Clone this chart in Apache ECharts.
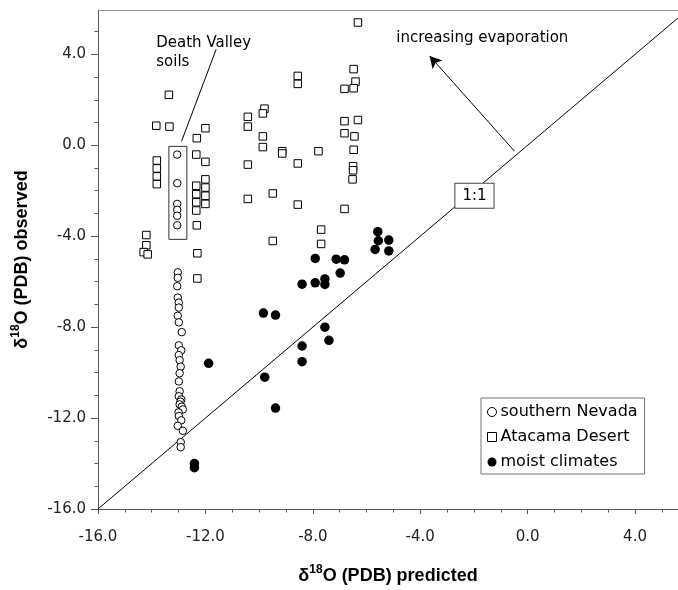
<!DOCTYPE html>
<html>
<head>
<meta charset="utf-8">
<script src="https://cdn.jsdelivr.net/npm/echarts@6/dist/echarts.min.js"></script>
<style>
  html, body { margin: 0; padding: 0; background: #fff; }
  #chart { width: 678px; height: 590px; }
</style>
</head>
<body>
<div id="chart"></div>
<script>
// Axis extents and tick positions (per mil, PDB)
const xMin = -16, xMax = 5.6;
const yMin = -16, yMax = 5.95;
const majorTicks = [-16, -12, -8, -4, 0, 4];
const minorTicksX = [-15, -14, -13, -11, -10, -9, -7, -6, -5, -3, -2, -1, 1, 2, 3, 5];
const minorTicksY = [-15, -14, -13, -11, -10, -9, -7, -6, -5, -3, -2, -1, 1, 2, 3, 5];

// [predicted, observed]
const southernNevada = [
  [-13.05, -0.41], [-13.05, -1.67], [-13.05, -2.58], [-13.05, -2.84], [-13.05, -3.10], [-13.05, -3.52],
  [-13.03, -5.59], [-13.03, -5.83], [-13.05, -6.20], [-13.03, -6.70], [-12.99, -6.92], [-12.99, -7.14],
  [-13.03, -7.50], [-12.99, -7.79], [-12.88, -8.22], [-12.99, -8.80], [-12.90, -9.02], [-12.99, -9.23],
  [-12.96, -9.45], [-12.92, -9.74], [-12.96, -10.03], [-12.99, -10.39], [-12.96, -10.82], [-12.99, -11.04],
  [-12.90, -11.18], [-12.93, -11.28], [-12.96, -11.40], [-12.88, -11.50], [-12.84, -11.62], [-13.00, -11.75],
  [-12.99, -11.91], [-12.90, -12.10], [-13.03, -12.34], [-12.84, -12.56], [-12.92, -13.06], [-12.92, -13.28]
];

const atacamaDesert = [
  [-13.36, 2.22], [-13.83, 0.86], [-13.34, 0.82], [-12.32, 0.31], [-12.00, 0.75], [-12.34, -0.41], [-12.00, -0.73],
  [-13.81, -0.67], [-13.81, -1.02], [-13.81, -1.37], [-13.81, -1.71],
  [-12.34, -1.78], [-12.34, -2.15], [-12.34, -2.51], [-12.34, -2.87], [-12.32, -3.52], [-12.30, -4.75], [-12.30, -5.86],
  [-12.00, -1.50], [-12.00, -1.86], [-12.00, -2.22], [-12.00, -2.58],
  [-14.20, -3.95], [-14.20, -4.40], [-14.30, -4.70], [-14.15, -4.80],
  [-8.56, 3.05], [-8.56, 2.70], [-9.80, 1.61], [-9.86, 1.40], [-10.42, 1.25], [-10.42, 0.82],
  [-9.86, 0.39], [-9.86, -0.08], [-9.14, -0.26], [-9.14, -0.36], [-7.79, -0.26], [-8.56, -0.80],
  [-10.42, -0.85], [-9.49, -2.12], [-10.42, -2.36], [-8.56, -2.61], [-7.69, -3.71], [-7.69, -4.34], [-9.49, -4.21],
  [-6.32, 5.40], [-6.48, 3.35], [-6.41, 2.80], [-6.48, 2.51], [-6.82, 2.48], [-6.32, 1.11], [-6.82, 1.06],
  [-6.82, 0.53], [-6.45, 0.39], [-6.48, -0.20], [-6.50, -0.92], [-6.50, -1.10], [-6.52, -1.50], [-6.82, -2.80]
];

const moistClimates = [
  [-11.88, -9.59], [-12.41, -14.00], [-12.41, -14.18],
  [-5.58, -3.80], [-5.56, -4.20], [-5.17, -4.17], [-5.68, -4.58], [-5.17, -4.65],
  [-7.91, -4.98], [-7.13, -5.01], [-6.82, -5.04], [-6.98, -5.62],
  [-8.40, -6.11], [-7.91, -6.05], [-7.55, -5.88], [-7.55, -6.12],
  [-9.84, -7.38], [-9.39, -7.47], [-7.55, -8.00], [-7.40, -8.58],
  [-8.40, -8.83], [-8.40, -9.52], [-9.79, -10.20], [-9.39, -11.56]
];

// 1:1 reference line and annotations (data coordinates)
const oneToOne = [[-16, -16], [6, 6]];
const evaporationArrow = [[-0.49, -0.26], [-3.65, 3.93]];
const deathValleyBox = [[-13.36, -0.05], [-12.69, -4.14]];
const deathValleyLeader = [[-12.89, 0.17], [-11.60, 4.22]];
const oneToOneLabelAt = [-1.98, -2.22];
const deathValleyLabelAt = [-13.83, 4.93];
const evaporationLabelAt = [-4.89, 4.72];

const TICK_FONT = 'DejaVu Sans';
const axisColor = '#555';
const fmt = v => (Math.abs(v) < 1e-9 ? 0 : v).toFixed(1);

const titleRich = {
  a: { fontFamily: 'Liberation Sans', fontWeight: 'bold', fontSize: 18, color: '#000', lineHeight: 24 },
  b: { fontFamily: 'Liberation Sans', fontWeight: 'bold', fontSize: 12, color: '#000', verticalAlign: 'top', lineHeight: 14 }
};

const chart = echarts.init(document.getElementById('chart'), null, { renderer: 'canvas' });

const option = {
  animation: false,
  backgroundColor: '#fff',
  grid: { left: 98, right: 0, top: 10, bottom: 74, containLabel: false },
  legend: {
    data: [
      { name: 'southern Nevada', icon: 'circle', itemStyle: { color: '#fff', borderColor: '#000', borderWidth: 1 } },
      { name: 'Atacama Desert', icon: 'rect', itemStyle: { color: '#fff', borderColor: '#000', borderWidth: 1 } },
      { name: 'moist climates', icon: 'circle', itemStyle: { color: '#000', borderWidth: 0 } }
    ],
    orient: 'vertical',
    left: 481,
    top: 398,
    itemWidth: 9,
    itemHeight: 9,
    itemGap: 9,
    padding: [6, 7, 4, 6],
    borderColor: '#777',
    borderWidth: 1,
    backgroundColor: '#fff',
    selectedMode: false,
    textStyle: { fontFamily: 'DejaVu Sans', fontSize: 16, color: '#000', padding: [0, 0, 0, -1] }
  },
  xAxis: [
    {
      type: 'value', min: xMin, max: xMax, position: 'bottom',
      axisLine: { show: true, onZero: false, lineStyle: { color: axisColor, width: 1 } },
      axisTick: { show: true, length: 5, customValues: majorTicks, lineStyle: { color: axisColor } },
      axisLabel: { customValues: majorTicks, formatter: fmt, margin: 21, fontFamily: TICK_FONT, fontSize: 15, color: '#222' },
      splitLine: { show: false },
      name: '{a|δ}{b|18}{a|O (PDB) predicted}',
      nameLocation: 'middle', nameGap: 55,
      nameTextStyle: { rich: titleRich }
    },
    {
      type: 'value', min: xMin, max: xMax, position: 'bottom',
      axisLine: { show: false, onZero: false },
      axisTick: { show: true, length: 3.5, customValues: minorTicksX, lineStyle: { color: axisColor } },
      axisLabel: { show: false },
      splitLine: { show: false }
    },
    {
      type: 'value', min: xMin, max: xMax, position: 'top',
      axisLine: { show: true, onZero: false, lineStyle: { color: '#999', width: 1 } },
      axisTick: { show: false }, axisLabel: { show: false }, splitLine: { show: false }
    }
  ],
  yAxis: [
    {
      type: 'value', min: yMin, max: yMax, position: 'left',
      axisLine: { show: true, onZero: false, lineStyle: { color: axisColor, width: 1 } },
      axisTick: { show: true, length: 7, customValues: majorTicks, lineStyle: { color: axisColor } },
      axisLabel: { customValues: majorTicks, formatter: fmt, margin: 12, fontFamily: TICK_FONT, fontSize: 15, color: '#222' },
      splitLine: { show: false },
      name: '{a|δ}{b|18}{a|O (PDB) observed}',
      nameLocation: 'middle', nameGap: 64, nameRotate: 90,
      nameTextStyle: { rich: titleRich }
    },
    {
      type: 'value', min: yMin, max: yMax, position: 'left',
      axisLine: { show: false, onZero: false },
      axisTick: { show: true, length: 3.5, customValues: minorTicksY, lineStyle: { color: axisColor } },
      axisLabel: { show: false },
      splitLine: { show: false }
    }
  ],
  series: [
    {
      name: '1:1',
      type: 'line',
      data: oneToOne,
      symbol: 'none',
      silent: true,
      clip: true,
      z: 1,
      lineStyle: { color: '#000', width: 1 },
      markLine: {
        silent: true,
        symbol: ['none', 'arrow'],
        symbolSize: [10, 12],
        label: { show: false },
        lineStyle: { color: '#000', width: 1, type: 'solid' },
        data: [
          [{ coord: evaporationArrow[0] }, { coord: evaporationArrow[1] }],
          [{ coord: deathValleyLeader[0], symbol: 'none' }, { coord: deathValleyLeader[1], symbol: 'none' }]
        ]
      },
      markArea: {
        silent: true,
        itemStyle: { color: 'rgba(255,255,255,0)', borderColor: '#333', borderWidth: 1 },
        data: [[{ coord: deathValleyBox[0] }, { coord: deathValleyBox[1] }]]
      },
      markPoint: {
        silent: true,
        symbol: 'rect',
        symbolSize: 1,
        itemStyle: { color: 'rgba(0,0,0,0)' },
        label: {
          show: true, position: 'inside', formatter: '1:1',
          fontFamily: 'DejaVu Sans', fontSize: 15, color: '#000',
          backgroundColor: '#fff', borderColor: '#444', borderWidth: 1, padding: [5, 7, 4, 7]
        },
        data: [{ coord: oneToOneLabelAt }]
      }
    },
    {
      name: 'southern Nevada', type: 'scatter', data: southernNevada,
      symbol: 'circle', symbolSize: 7.5, z: 3,
      itemStyle: { color: '#fff', borderColor: '#000', borderWidth: 1, opacity: 1 }
    },
    {
      name: 'Atacama Desert', type: 'scatter', data: atacamaDesert,
      symbol: 'rect', symbolSize: 7.5, z: 3,
      itemStyle: { color: '#fff', borderColor: '#000', borderWidth: 1, opacity: 1 }
    },
    {
      name: 'moist climates', type: 'scatter', data: moistClimates,
      symbol: 'circle', symbolSize: 9.5, z: 4,
      itemStyle: { color: '#000', opacity: 1 }
    }
  ]
};

chart.setOption(option);

// Free-standing annotation texts placed in data space
const p = c => chart.convertToPixel({ gridIndex: 0 }, c);
const dv = p(deathValleyLabelAt);
const ev = p(evaporationLabelAt);
chart.setOption({
  graphic: [
    {
      type: 'text', left: dv[0], top: dv[1], silent: true,
      style: { text: 'Death Valley\nsoils', font: '15px "DejaVu Sans"', fill: '#000', lineHeight: 19 }
    },
    {
      type: 'text', x: ev[0], y: ev[1], silent: true,
      style: { text: 'increasing evaporation', font: '15px "DejaVu Sans"', fill: '#000', verticalAlign: 'middle' }
    }
  ]
});
</script>
</body>
</html>
